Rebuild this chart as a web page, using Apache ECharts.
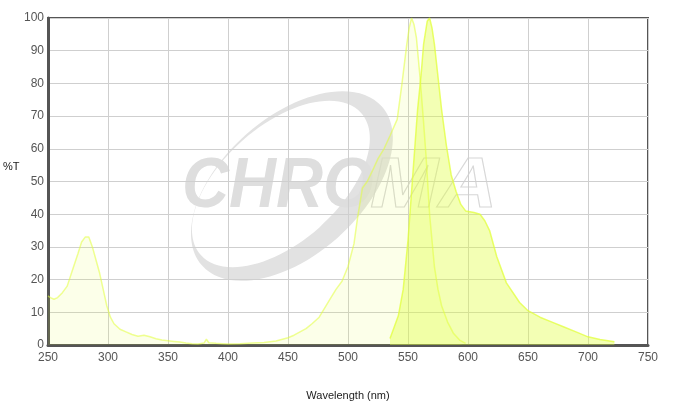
<!DOCTYPE html>
<html>
<head>
<meta charset="utf-8">
<script src="https://cdn.jsdelivr.net/npm/echarts@6/dist/echarts.min.js"></script>
<style>html,body{margin:0;padding:0;background:#fff}#c{width:673px;height:406px}</style>
</head>
<body>
<div id="c"></div>
<script>
// Excitation spectrum (wavelength nm, %T)
var exWl = [250,252,255,258,262,266,270,275,278,281,284,287,290,293,296,299,302,305,310,315,320,325,330,335,340,345,350,355,360,365,370,375,380,382,384,390,395,400,410,420,430,440,450,455,460,465,470,476,480,485,490,495,500,505,508,512,516,520,525,530,535,541,545,549,551,553,555,557,560,563,565,568,572,575,578,583,588,593,598];
var exT  = [15,14.5,14,14.5,16,18,22.5,28,31.5,33,33,30,26,22,17,12,8.5,6.5,4.8,4,3.2,2.7,3,2.5,1.9,1.5,1.3,1.1,0.9,0.6,0.4,0.3,0.6,1.8,0.7,0.5,0.4,0.3,0.4,0.6,0.8,1.2,2.2,3,4,5,6.5,8.5,11,14,17,19.5,24,31,39,48,50,53,57,60,64,69,80,92,97,100,98,94,82,68,58,40,24,17,12,7,3.5,1.5,0.5];
// Emission spectrum
var emWl = [535,538,542,546,550,553,555,558,561,563,566,568,570,572,575,578,582,586,590,594,598,605,610,614,618,624,632,643,650,660,670,680,690,700,710,722];
var emT  = [2,5,9,17,32,47,57,72,83,92,99,100,97,92,82,72,61,52,47,43,41,40.5,40,38,35,27,19,13,10.5,8.5,7,5.5,4,2.5,1.7,1];
var xTicks = [250,300,350,400,450,500,550,600,650,700,750];
var yTicks = [0,10,20,30,40,50,60,70,80,90,100];

function pairs(xs, ys){ return xs.map(function(x,i){ return [x, ys[i]]; }); }

var FONT = 'Liberation Sans, Arial, sans-serif';
var chart = echarts.init(document.getElementById('c'), null, {renderer:'canvas'});
chart.setOption({
  animation: false,
  backgroundColor: '#fff',
  grid: {left:48, right:25, top:18, bottom:55, show:true, borderColor:'#555', borderWidth:2, backgroundColor:'transparent'},
  graphic: [
    {type:'ellipse', z:-10, silent:true, x:292, y:186, rotation:0.724,
     shape:{cx:0, cy:0, rx:120, ry:69}, style:{fill:'#e2e2e2'}},
    {type:'ellipse', z:-9, silent:true, x:281, y:184, rotation:0.724,
     shape:{cx:0, cy:0, rx:107, ry:58}, style:{fill:'#fff'}},
    {type:'text', z:-8, silent:true, x:182, y:153, scaleX:0.93,
     style:{text:'CHRO', fill:'#dedede', font:'italic bold 70px ' + FONT}},
    {type:'text', z:-8, silent:true, x:370, y:153, scaleX:1.17,
     style:{text:'MA', fill:'transparent', stroke:'#d8d8d8', lineWidth:1, font:'italic bold 70px ' + FONT}},
    {type:'text', silent:true, left:3, top:161,
     style:{text:'%T', fill:'#222', font:'11px ' + FONT}}
  ],
  xAxis: {
    type:'value', min:xTicks[0], max:xTicks[xTicks.length-1], interval:50,
    name:'Wavelength (nm)', nameLocation:'middle', nameGap:45,
    nameTextStyle:{color:'#222', fontSize:11, fontFamily:FONT},
    axisLine:{show:true, lineStyle:{color:'#555', width:3}},
    axisTick:{show:false},
    axisLabel:{color:'#555', fontSize:12, fontFamily:FONT, margin:7},
    splitLine:{show:true, lineStyle:{color:'#cfcfcf', width:1}}
  },
  yAxis: {
    type:'value', min:yTicks[0], max:yTicks[yTicks.length-1], interval:10,
    axisLine:{show:true, lineStyle:{color:'#555', width:3}},
    axisTick:{show:false},
    axisLabel:{color:'#555', fontSize:12, fontFamily:FONT, margin:4},
    splitLine:{show:true, lineStyle:{color:'#cfcfcf', width:1}}
  },
  series: [
    {type:'line', name:'Excitation', data:pairs(exWl, exT), showSymbol:false, smooth:false,
     lineStyle:{color:'rgba(225,255,60,0.55)', width:1.5},
     areaStyle:{color:'rgba(225,255,60,0.16)'}},
    {type:'line', name:'Emission', data:pairs(emWl, emT), showSymbol:false, smooth:false,
     lineStyle:{color:'rgba(225,255,60,0.75)', width:1.5},
     areaStyle:{color:'rgba(225,255,60,0.55)'}}
  ]
});
</script>
</body>
</html>
